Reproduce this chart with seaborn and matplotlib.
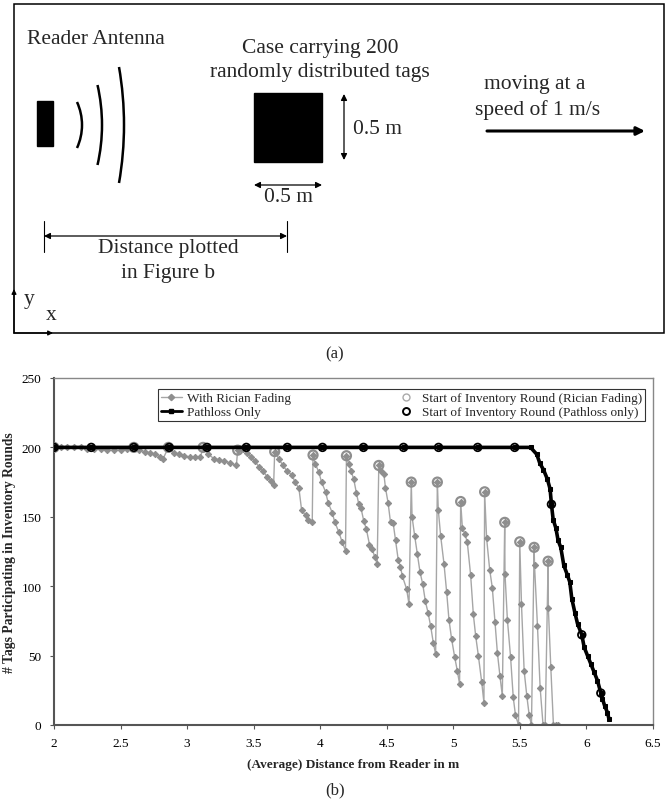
import math
import matplotlib
matplotlib.use("Agg")
import matplotlib.pyplot as plt
import seaborn as sns
from matplotlib.patches import Rectangle, Arc
from matplotlib.lines import Line2D

# ---- data (b) ----
rician_x = [2.00, 2.05, 2.10, 2.15, 2.20, 2.25, 2.30, 2.35, 2.40, 2.45, 2.50, 2.55,
            2.60, 2.64, 2.68, 2.72, 2.76, 2.80, 2.82,
            2.86, 2.90, 2.94, 2.98, 3.02, 3.06, 3.10,
            3.12, 3.16, 3.20, 3.24, 3.28, 3.32, 3.37,
            3.38, 3.42, 3.45, 3.48, 3.51, 3.54, 3.57, 3.60, 3.63, 3.65,
            3.658, 3.69, 3.72, 3.75, 3.79, 3.81, 3.84, 3.86, 3.89, 3.91, 3.94,
            3.946, 3.964, 3.99, 4.01, 4.04, 4.06, 4.09, 4.11, 4.14, 4.165, 4.19,
            4.197, 4.214, 4.232, 4.252, 4.272, 4.29, 4.307, 4.327, 4.347, 4.37, 4.39, 4.41, 4.428,
            4.44, 4.458, 4.478, 4.49, 4.51, 4.528, 4.548, 4.566, 4.586, 4.603, 4.616, 4.649, 4.667,
            4.684, 4.69, 4.71, 4.73, 4.75, 4.77, 4.79, 4.81, 4.83, 4.85, 4.867,
            4.88, 4.887, 4.905, 4.93, 4.95, 4.967, 4.987, 5.01, 5.03, 5.047,
            5.055, 5.068, 5.087, 5.105, 5.13, 5.15, 5.168, 5.188, 5.213, 5.23,
            5.235, 5.25, 5.273, 5.293, 5.313, 5.331, 5.35, 5.368,
            5.386, 5.388, 5.406, 5.43, 5.45, 5.467, 5.49,
            5.499, 5.512, 5.532, 5.552, 5.57, 5.587,
            5.607, 5.61, 5.632, 5.652, 5.674, 5.69,
            5.712, 5.714, 5.732, 5.752, 5.77, 5.79]
rician_y = [200, 200, 200, 200, 200, 199, 199, 199, 198, 198, 198, 199,
            200, 198, 197, 196, 195, 193, 192,
            200, 196, 195, 194, 193, 193, 193,
            200, 195, 192, 191, 190, 189, 187,
            198, 199, 196, 193, 190, 186, 183, 179, 176, 173,
            197, 191.6, 187, 183, 180, 175, 170.5, 155, 151, 148, 146,
            194.5, 188, 182, 175, 168, 160, 153, 146, 139, 131.6, 125.6,
            194, 188, 183, 177, 167, 159, 156, 147, 141, 130, 127, 121, 116,
            187, 183, 181, 171, 160, 146, 145.5, 133, 119, 114, 107.6, 98, 87,
            175, 150, 136, 123, 110, 101.6, 89, 81, 71, 59, 51,
            175, 155, 136, 116, 95.6, 76, 62, 49, 39, 29.5,
            161, 142, 137.6, 131.6, 108, 80, 64, 50, 31, 16,
            168, 134.5, 112, 98.7, 74, 52, 35.5, 21,
            146, 109, 76, 49, 20, 7, 0,
            132, 87, 39, 21, 7, 0,
            128, 115, 71.5, 27, 0, 0,
            118, 84, 42, 0, 0, 0]

rician_start_x = [2.00, 2.60, 2.86, 3.12, 3.38, 3.658, 3.946, 4.197, 4.44, 4.684,
                  4.88, 5.055, 5.235, 5.386, 5.499, 5.607, 5.712]
rician_start_y = [200, 200, 200, 200, 198, 197, 194.5, 194, 187, 175,
                  175, 161, 168, 146, 132, 128, 118]

pathloss_x = [2.00, 2.28, 2.60, 2.865, 3.15, 3.445, 3.753, 4.017, 4.325, 4.626,
              4.889, 5.183, 5.461, 5.58, 5.627, 5.65, 5.677, 5.707, 5.727, 5.737,
              5.75, 5.77, 5.787, 5.807, 5.83, 5.857, 5.875, 5.89, 5.913, 5.933,
              5.965, 5.983, 6.008, 6.033, 6.058, 6.083, 6.108, 6.12, 6.138, 6.158, 6.17]
pathloss_y = [200, 200, 200, 200, 200, 200, 200, 200, 200, 200,
              200, 200, 200, 200, 195, 188.5, 184, 177, 170, 159,
              148, 142, 133, 128, 115, 108, 103, 91, 81, 73,
              65, 56, 50, 44, 38, 32, 23, 19, 13.5, 9, 4]

pathloss_start_x = [2.00, 2.28, 2.60, 2.865, 3.15, 3.445, 3.753, 4.017, 4.325, 4.626,
                    4.889, 5.183, 5.461, 5.737, 5.965, 6.108]
pathloss_start_y = [200, 200, 200, 200, 200, 200, 200, 200, 200, 200,
                    200, 200, 200, 159, 65, 23]

x_ticks = [2, 2.5, 3, 3.5, 4, 4.5, 5, 5.5, 6, 6.5]
x_tick_labels = ["2", "2.5", "3", "3.5", "4", "4.5", "5", "5.5", "6", "6.5"]
y_ticks = [0, 50, 100, 150, 200, 250]

sns.set_theme(style="white")
plt.rcParams['font.family'] = ['Liberation Serif', 'DejaVu Serif']

fig = plt.figure(figsize=(6.7, 8.04), dpi=100)

# ---------------- (a) schematic, drawn in pixel units ----------------
ax_a = fig.add_axes([0, 1 - 370 / 804, 1, 370 / 804])
ax_a.set_xlim(0, 670)
ax_a.set_ylim(370, 0)
ax_a.axis("off")

ax_a.add_patch(Rectangle((14, 5), 650, 329, fill=False, edgecolor="black", lw=1.1))
ax_a.add_patch(Rectangle((37, 102), 16, 45, color="black"))
ax_a.add_patch(Rectangle((254, 94), 68, 69, color="black"))

# radio waves: (rightmost x, half height, bulge)
for xr, half, bulge in [(82, 23, 5), (102, 40, 4.5), (124, 58, 5)]:
    r = (half ** 2 + bulge ** 2) / (2 * bulge)
    ang = math.degrees(math.asin(half / r))
    ax_a.add_patch(Arc((xr - r, 126), 2 * r, 2 * r, theta1=-ang, theta2=ang,
                       color="black", lw=1.8))

arrow_kw = dict(arrowstyle="<|-|>", color="black", lw=0.9, mutation_scale=9,
                shrinkA=0, shrinkB=0)
ax_a.annotate("", xy=(344, 95), xytext=(344, 161), arrowprops=arrow_kw)
ax_a.annotate("", xy=(254, 186), xytext=(322, 186), arrowprops=arrow_kw)
ax_a.annotate("", xy=(44, 237), xytext=(287, 237), arrowprops=arrow_kw)
ax_a.plot([44, 44], [222, 253], color="black", lw=0.8)
ax_a.plot([287, 287], [222, 253], color="black", lw=0.8)
ax_a.annotate("", xy=(645, 132), xytext=(487, 132),
              arrowprops=dict(arrowstyle="-|>", color="black", lw=2.2,
                              mutation_scale=12, shrinkA=0, shrinkB=0))
ax_a.annotate("", xy=(14, 290), xytext=(14, 334),
              arrowprops=dict(arrowstyle="-|>", color="black", lw=0.9,
                              mutation_scale=7, shrinkA=0, shrinkB=0))
ax_a.annotate("", xy=(53, 334), xytext=(14, 334),
              arrowprops=dict(arrowstyle="-|>", color="black", lw=0.9,
                              mutation_scale=7, shrinkA=0, shrinkB=0))

fs = 15.5
ax_a.text(96, 40, "Reader Antenna", fontsize=fs, ha="center", va="center")
ax_a.text(320, 48, "Case carrying 200", fontsize=fs, ha="center", va="center")
ax_a.text(320, 73, "randomly distributed tags", fontsize=fs, ha="center", va="center")
ax_a.text(353, 129, "0.5 m", fontsize=fs, ha="left", va="center")
ax_a.text(288, 198, "0.5 m", fontsize=fs, ha="center", va="center")
ax_a.text(535, 85, "moving at a", fontsize=fs, ha="center", va="center")
ax_a.text(538, 110, "speed of 1 m/s", fontsize=fs, ha="center", va="center")
ax_a.text(168, 248, "Distance plotted", fontsize=fs, ha="center", va="center")
ax_a.text(168, 274, "in Figure b", fontsize=fs, ha="center", va="center")
ax_a.text(29, 300, "y", fontsize=fs, ha="center", va="center")
ax_a.text(51, 316, "x", fontsize=fs, ha="center", va="center")
ax_a.text(335, 354, "(a)", fontsize=12, ha="center", va="center")

# ---------------- (b) chart ----------------
ax = fig.add_axes([54 / 670, 78 / 804, 599 / 670, 347 / 804])

gray = "#8e8e8e"
sns.lineplot(x=rician_x, y=rician_y, sort=False, estimator=None, ax=ax,
             color="#a6a6a6", lw=1.0, marker="D", markersize=3.2,
             markerfacecolor=gray, markeredgecolor=gray)
sns.scatterplot(x=rician_start_x, y=rician_start_y, ax=ax, marker="o", s=42,
                facecolor="none", edgecolor=gray, linewidth=1.6, zorder=3)
sns.lineplot(x=pathloss_x, y=pathloss_y, sort=False, estimator=None, ax=ax,
             color="black", lw=2.6, marker="s", markersize=3,
             markerfacecolor="black", markeredgecolor="black", zorder=4)
sns.scatterplot(x=pathloss_start_x, y=pathloss_start_y, ax=ax, marker="o", s=30,
                facecolor="none", edgecolor="black", linewidth=1.3, zorder=5)

ax.set_xlim(2, 6.5)
ax.set_ylim(0, 250)
ax.set_xticks(x_ticks)
ax.set_xticklabels(x_tick_labels)
ax.set_yticks(y_ticks)
ax.tick_params(axis="both", labelsize=9.5, direction="out", length=3, width=0.8,
               colors="#555555", labelcolor="black", bottom=True, left=True, pad=6)
for side, sp in ax.spines.items():
    sp.set_color("#555555" if side in ("left", "bottom") else "#888888")
    sp.set_linewidth(1.5 if side in ("left", "bottom") else 1.0)

ax.set_xlabel("(Average) Distance from Reader in m", fontsize=9.5,
              fontweight="bold", labelpad=6)
ax.set_ylabel("# Tags Participating in Inventory Rounds", fontsize=9.8,
              fontweight="bold", labelpad=4)

handles = [
    Line2D([], [], color="#a6a6a6", lw=1.0, marker="D", markersize=3.2,
           markerfacecolor=gray, markeredgecolor=gray),
    Line2D([], [], color="black", lw=2.0, marker="s", markersize=3),
    Line2D([], [], ls="none", marker="o", markersize=5, markerfacecolor="none",
           markeredgecolor="#aaaaaa", markeredgewidth=1.0),
    Line2D([], [], ls="none", marker="o", markersize=5, markerfacecolor="none",
           markeredgecolor="black", markeredgewidth=1.4),
]
labels = ["With Rician Fading", "Pathloss Only",
          "Start of Inventory Round (Rician Fading)",
          "Start of Inventory Round (Pathloss only)"]
leg = ax.legend(handles, labels, ncol=2, loc="lower left",
                bbox_to_anchor=(0.174, 0.876, 0.813, 0.107), mode="expand",
                fontsize=9.5, frameon=True, fancybox=False, edgecolor="black",
                handlelength=1.6, handletextpad=0.4, borderpad=0.2,
                labelspacing=0.15, borderaxespad=0)
leg.get_frame().set_linewidth(0.8)

fig.text(335 / 670, 1 - 790 / 804, "(b)", fontsize=12, ha="center", va="center")

fig.savefig("out.png", dpi=100)
